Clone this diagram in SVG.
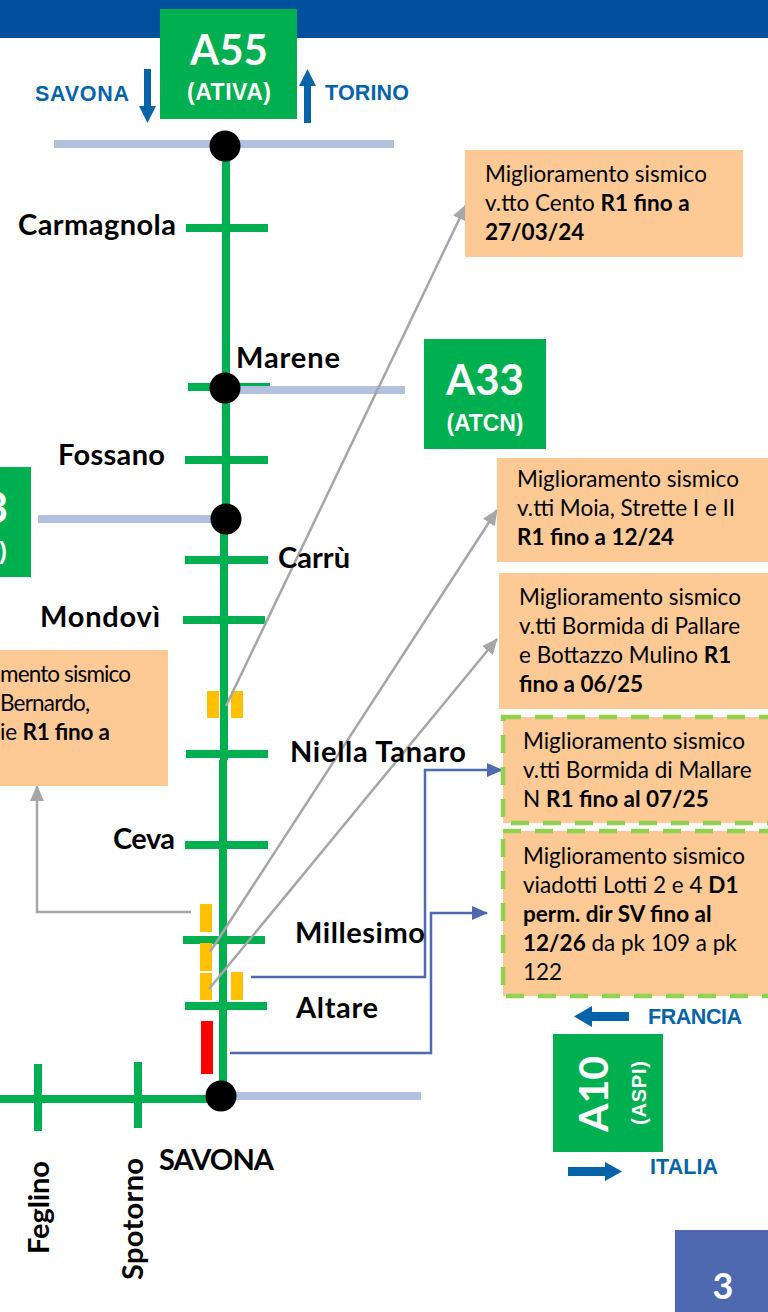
<svg xmlns="http://www.w3.org/2000/svg" width="768" height="1312" viewBox="0 0 768 1312">
<style>
text{font-family:Lato,"Open Sans","Liberation Sans",sans-serif;fill:#000}
.city{font-size:29px;font-weight:700}
.note{font-size:22.500px}
.b{font-weight:700}
.code{fill:#fff;font-weight:700;font-size:42px;text-anchor:middle}
.sub{fill:#fff;font-weight:700;font-size:23px;text-anchor:middle;font-family:"Liberation Sans",sans-serif}
.dir{fill:#0563a8;font-weight:700;font-size:21.500px;font-family:"Liberation Sans",sans-serif}
.g{fill:#00b050}
.o{fill:#ffc000}
.box{fill:#fdca96}
.dash{fill:#fdca96;stroke:#92d050;stroke-width:4.500;stroke-dasharray:18 14}
.tr{stroke:#00b050;stroke-width:8;fill:none}
.lb{stroke:#b4c0e0;stroke-width:8;fill:none}
.gy{stroke:#a6a6a6;stroke-width:2.500;fill:none}
.bl{stroke:#4e69b0;stroke-width:2.500;fill:none}
.ar{fill:#0563a8}
</style>
<defs>
<marker id="mg" markerUnits="userSpaceOnUse" markerWidth="16" markerHeight="14" refX="15" refY="7" orient="auto"><path d="M0 0L16 7L0 14z" fill="#a6a6a6"/></marker>
<marker id="mb" markerUnits="userSpaceOnUse" markerWidth="16" markerHeight="14" refX="15" refY="7" orient="auto"><path d="M0 0L16 7L0 14z" fill="#4e69b0"/></marker>
</defs>
<rect id="header" x="0" y="0" width="768" height="38" fill="#00509e"/>
<g id="roads">
<path class="tr" d="M226 144V389M226 389V519M224 519V760M223 760V1096M0 1099H221"/>
<path class="tr" d="M186 228H268M188 387H270M185 460H268M185 560H268M183 620H265M186 754H268M185 845H268M183 940H265M185 1006H267M38 1064V1131M138 1062V1128"/>
<path class="lb" d="M54 144H394M225 390H405M38 519H226M221 1096H421"/>
</g>
<g id="works">
<rect class="o" x="207" y="691" width="12" height="27"/><rect class="o" x="231" y="691" width="12" height="27"/>
<rect class="o" x="200" y="904" width="12" height="28"/><rect class="o" x="200" y="943" width="12" height="28"/><rect class="o" x="200" y="973" width="12" height="27"/><rect class="o" x="231" y="972" width="12" height="28"/>
<rect x="201" y="1021" width="12" height="53" fill="#f00"/>
</g>
<g id="connectors">
<path class="gy" marker-end="url(#mg)" d="M226 706L466 205"/>
<path class="gy" marker-end="url(#mg)" d="M210 952L497 510"/>
<path class="gy" marker-end="url(#mg)" d="M209 989L497 639"/>
<path class="gy" marker-end="url(#mg)" d="M191 912H37V786"/>
<path class="bl" marker-end="url(#mb)" d="M251 977H425V770H502"/>
<path class="bl" marker-end="url(#mb)" d="M230 1053H431V913H487"/>
</g>
<g id="junctions" fill="#000">
<circle cx="225" cy="146" r="15.500"/><circle cx="225" cy="388" r="15.500"/><circle cx="226" cy="519" r="15.500"/><circle cx="221" cy="1096" r="15.500"/>
</g>
<g id="a55"><rect class="g" x="160" y="9" width="137" height="110"/><text class="code" x="229" y="65">A55</text><text class="sub" x="229" y="100" textLength="84">(ATIVA)</text></g>
<g id="a33"><rect class="g" x="424" y="339" width="122" height="110"/><text class="code" x="485" y="395">A33</text><text class="sub" x="485" y="431" textLength="77">(ATCN)</text></g>
<g id="a33-left"><rect class="g" x="0" y="467" width="31" height="110"/><text class="code" x="-4" y="523">3</text><text class="sub" x="3" y="559">)</text></g>
<g id="a10"><rect class="g" x="553" y="1034" width="110" height="118"/><text class="code" style="font-size:41px" transform="translate(608 1094) rotate(-90)">A10</text><text class="sub" style="font-size:20px" textLength="64" transform="translate(646 1093) rotate(-90)">(ASPI)</text></g>
<g id="directions">
<path class="ar" d="M144 69h7v37h5l-8.500 17l-8.500-17h5z"/><path class="ar" d="M304 123v-37h-5l8.500-17l8.500 17h-5v37z"/>
<path class="ar" d="M629 1012v9h-37v6l-18-10.500l18-10.500v6z"/><path class="ar" d="M568 1167h37v-5l17 9.500l-17 9.500v-5h-37z"/>
<text class="dir" x="35" y="101" textLength="94">SAVONA</text><text class="dir" x="325" y="100" textLength="84">TORINO</text><text class="dir" x="648" y="1024" textLength="94">FRANCIA</text><text class="dir" x="650" y="1174" textLength="68">ITALIA</text>
</g>
<g id="cities">
<text class="city" x="18" y="235" textLength="158">Carmagnola</text><text class="city" x="236" y="368" textLength="104">Marene</text><text class="city" x="58" y="465" textLength="107">Fossano</text><text class="city" x="278" y="568" textLength="72">Carrù</text><text class="city" x="40" y="627" textLength="120">Mondovì</text><text class="city" x="290" y="762" textLength="176">Niella Tanaro</text><text class="city" x="113" y="849" textLength="62">Ceva</text><text class="city" x="295" y="943" textLength="130">Millesimo</text><text class="city" x="296" y="1018" textLength="82">Altare</text><text class="city" x="159" y="1170" textLength="115">SAVONA</text>
<text class="city" textLength="93" transform="translate(49 1254) rotate(-90)">Feglino</text><text class="city" textLength="122" transform="translate(143 1280) rotate(-90)">Spotorno</text>
</g>
<g id="note-cento"><rect class="box" x="465" y="150" width="278" height="107"/><text class="note" x="485" y="182">Miglioramento sismico</text><text class="note" x="485" y="211">v.tto Cento <tspan class="b">R1 fino a</tspan></text><text class="note b" x="485" y="240">27/03/24</text></g>
<g id="note-moia"><rect class="box" x="497" y="458" width="271" height="104"/><text class="note" x="517" y="487">Miglioramento sismico</text><text class="note" x="517" y="516">v.tti Moia, Strette I e II</text><text class="note b" x="517" y="545">R1 fino a 12/24</text></g>
<g id="note-pallare"><rect class="box" x="499" y="573" width="269" height="136"/><text class="note" x="519" y="605">Miglioramento sismico</text><text class="note" x="519" y="634">v.tti Bormida di Pallare</text><text class="note" x="519" y="663">e Bottazzo Mulino <tspan class="b">R1</tspan></text><text class="note b" x="519" y="692">fino a 06/25</text></g>
<g id="note-bernardo"><rect class="box" x="0" y="650" width="168" height="136"/><text class="note" x="0" y="682" textLength="131">mento sismico</text><text class="note" x="0" y="711" textLength="90">Bernardo,</text><text class="note" x="0" y="740" textLength="110">ie <tspan class="b">R1 fino a</tspan></text></g>
<g id="note-mallare"><rect class="dash" x="503" y="717" width="280" height="106"/><text class="note" x="523" y="749">Miglioramento sismico</text><text class="note" x="523" y="778">v.tti Bormida di Mallare</text><text class="note" x="523" y="807">N <tspan class="b">R1 fino al 07/25</tspan></text></g>
<g id="note-lotti"><rect class="dash" x="503" y="831" width="280" height="165"/><text class="note" x="523" y="864">Miglioramento sismico</text><text class="note" x="523" y="893">viadotti Lotti 2 e 4 <tspan class="b">D1</tspan></text><text class="note b" x="523" y="922">perm. dir SV fino al</text><text class="note" x="523" y="951"><tspan class="b">12/26</tspan> da pk 109 a pk</text><text class="note" x="523" y="980">122</text></g>
<g id="page"><rect x="675" y="1230" width="93" height="82" fill="#4e69b0"/><text x="723" y="1299" text-anchor="middle" style="fill:#fff;font-weight:700;font-size:36px">3</text></g>
</svg>
